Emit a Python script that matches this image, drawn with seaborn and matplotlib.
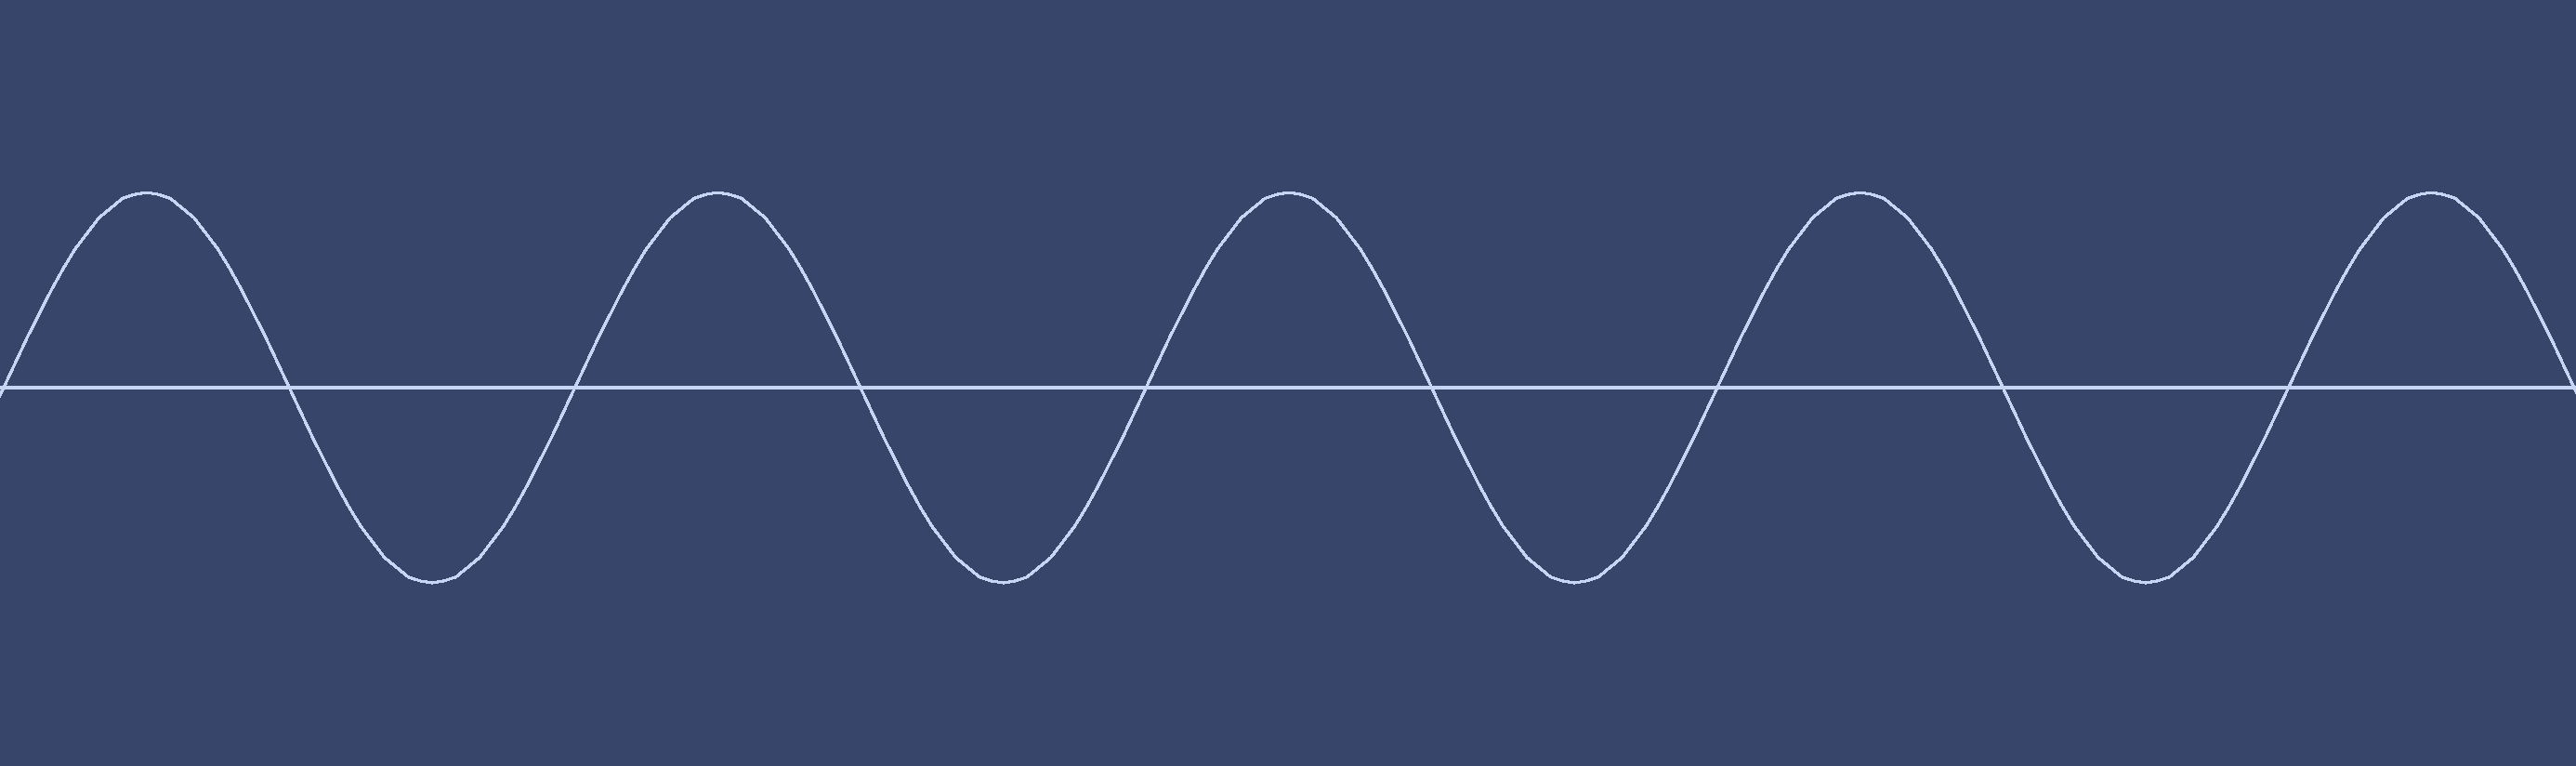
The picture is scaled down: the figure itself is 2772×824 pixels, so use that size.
import matplotlib
matplotlib.use("Agg")
import matplotlib.pyplot as plt
import numpy as np
import seaborn as sns

# ---------------------------
# DATA (wave height, every 1/48 of a cycle)
# ---------------------------
rise_fall = [0.00, 0.13, 0.26, 0.38, 0.50, 0.61, 0.71, 0.79, 0.87, 0.92, 0.97, 0.99,
             1.00, 0.99, 0.97, 0.92, 0.87, 0.79, 0.71, 0.61, 0.50, 0.38, 0.26, 0.13]
dip = [0.00, -0.13, -0.26, -0.38, -0.50, -0.61, -0.71, -0.79, -0.87, -0.92, -0.97, -0.99,
       -1.00, -0.99, -0.97, -0.92, -0.87, -0.79, -0.71, -0.61, -0.50, -0.38, -0.26, -0.13]
wave = [-0.13] + (rise_fall + dip) * 4 + rise_fall + [0.00, -0.13]
sample = np.arange(-1, len(wave) - 1)

bg_color = "#38456a"
line_color = "#c8d4f4"

# ---------------------------
# PLOT
# ---------------------------
sns.set_style("white")

fig = plt.figure(figsize=(27.72, 8.24), dpi=100, facecolor=bg_color)
ax = fig.add_axes([0, 0, 1, 1])
ax.set_facecolor(bg_color)

sns.lineplot(x=sample, y=wave, ax=ax, color=line_color, linewidth=1.5,
             antialiased=False)
ax.axhline(0, color=line_color, linewidth=1.5, antialiased=False)

ax.set_xlim(-0.31, 216.16)
ax.set_ylim(-1.938, 1.986)
ax.axis("off")

fig.savefig("out.png", dpi=100, facecolor=bg_color)
